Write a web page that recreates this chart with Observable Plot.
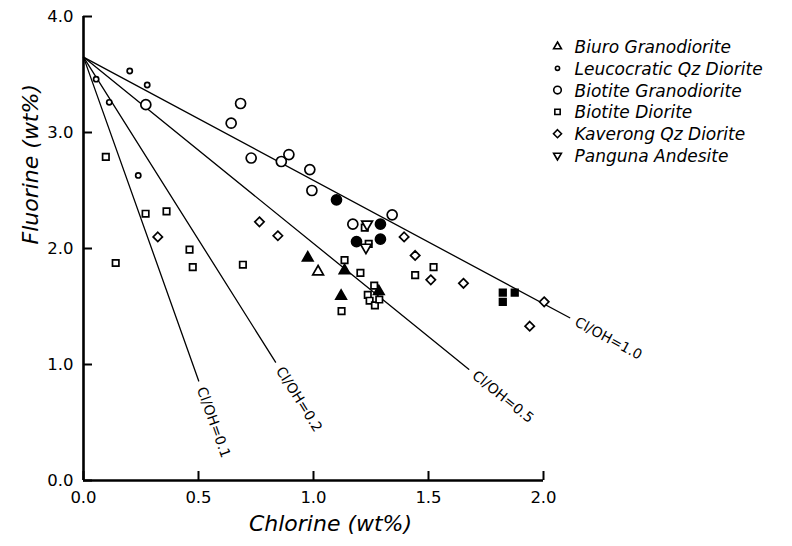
<!DOCTYPE html>
<html>
<head>
<meta charset="utf-8">
<script src="https://cdn.jsdelivr.net/npm/d3@7"></script>
<script src="https://cdn.jsdelivr.net/npm/@observablehq/plot@0.6"></script>
<style>
  html, body { margin: 0; padding: 0; background: #fff; }
  #chart { width: 792px; height: 546px; }
</style>
</head>
<body>
<div id="chart"></div>
<script>
// ---------- data ----------
const xTicks = [0, 0.5, 1.0, 1.5, 2.0];
const yTicks = [0, 1, 2, 3, 4];

const originCl = 0;
const originF = 3.65;
const ratioLabels = ["Cl/OH=0.1", "Cl/OH=0.2", "Cl/OH=0.5", "Cl/OH=1.0"];
const ratioEndCl = [0.501, 0.835, 1.675, 2.114];
const ratioEndF  = [0.858, 1.02, 0.959, 1.403];

const legendNames = ["Biuro Granodiorite", "Leucocratic Qz Diorite", "Biotite Granodiorite",
                     "Biotite Diorite", "Kaverong Qz Diorite", "Panguna Andesite"];

const biuroCl = [1.02];
const biuroF  = [1.80];
const biuroSolidCl = [0.975, 1.135, 1.12, 1.284];
const biuroSolidF  = [1.92, 1.81, 1.59, 1.63];

const leucoCl = [0.055, 0.112, 0.201, 0.277, 0.238];
const leucoF  = [3.46, 3.26, 3.53, 3.41, 2.63];

const biotGdCl = [0.271, 0.683, 0.642, 0.729, 0.860, 0.893, 0.984, 0.993, 1.171, 1.342];
const biotGdF  = [3.24, 3.25, 3.08, 2.78, 2.75, 2.81, 2.68, 2.50, 2.21, 2.29];
const biotGdSolidCl = [1.10, 1.291, 1.187, 1.291];
const biotGdSolidF  = [2.42, 2.21, 2.06, 2.08];

const biotDiCl = [0.097, 0.270, 0.361, 0.461, 0.475, 0.140, 0.693,
                  1.135, 1.204, 1.264, 1.236, 1.244, 1.267, 1.286, 1.122, 1.223, 1.240, 1.442, 1.522];
const biotDiF  = [2.79, 2.30, 2.32, 1.99, 1.84, 1.875, 1.86,
                  1.90, 1.79, 1.68, 1.60, 1.55, 1.51, 1.56, 1.46, 2.18, 2.04, 1.77, 1.84];
const biotDiSolidCl = [1.823, 1.875, 1.823];
const biotDiSolidF  = [1.62, 1.62, 1.54];

const kaverongCl = [0.323, 0.765, 0.845, 1.394, 1.442, 1.510, 1.652, 2.003, 1.940];
const kaverongF  = [2.10, 2.23, 2.11, 2.10, 1.94, 1.73, 1.70, 1.54, 1.33];

const pangunaCl = [1.233, 1.228];
const pangunaF  = [2.21, 2.01];

// ---------- series configuration ----------
const rows = (cl, f) => cl.map((c, i) => ({cl: c, f: f[i]}));
const series = [
  {cl: biuroCl, f: biuroF, symbol: "triangle", filled: false, r: 4, rotate: 0, legend: 0, lr: 2.9},
  {cl: biuroSolidCl, f: biuroSolidF, symbol: "triangle", filled: true, r: 3.9, rotate: 0},
  {cl: leucoCl, f: leucoF, symbol: "circle", filled: false, r: 2.6, rotate: 0, legend: 1, lr: 2.1},
  {cl: biotGdCl, f: biotGdF, symbol: "circle", filled: false, r: 5, rotate: 0, legend: 2, lr: 3.8},
  {cl: biotGdSolidCl, f: biotGdSolidF, symbol: "circle", filled: true, r: 5, rotate: 0},
  {cl: biotDiCl, f: biotDiF, symbol: "square2", filled: false, r: 4.1, rotate: 0, legend: 3, lr: 3.4},
  {cl: biotDiSolidCl, f: biotDiSolidF, symbol: "square", filled: true, r: 3.7, rotate: 0},
  {cl: kaverongCl, f: kaverongF, symbol: "diamond2", filled: false, r: 4.2, rotate: 0, legend: 4, lr: 3.6},
  {cl: pangunaCl, f: pangunaF, symbol: "triangle", filled: false, r: 4, rotate: 180, legend: 5, lr: 2.9}
];

const FONT = "DejaVu Sans, Liberation Sans, sans-serif";
const layout = {
  width: 792, height: 546,
  marginLeft: 83, marginRight: 249, marginTop: 16, marginBottom: 66,
  x: {domain: [0, 2]},
  y: {domain: [0, 4]},
  style: {fontFamily: FONT, background: "#fff", color: "#000", overflow: "visible"}
};

// probe pass: read the scales to orient the ratio-line labels and size the inward ticks
const probe = Plot.plot({...layout, marks: [Plot.ruleY([0])]});
const sx = probe.scale("x"), sy = probe.scale("y");

const ratioLines = ratioLabels.flatMap((lab, i) => [
  {lab, cl: originCl, f: originF},
  {lab, cl: ratioEndCl[i], f: ratioEndF[i]}
]);
const ratioText = ratioLabels.map((lab, i) => {
  const x0 = sx.apply(originCl), y0 = sy.apply(originF);
  const x1 = sx.apply(ratioEndCl[i]), y1 = sy.apply(ratioEndF[i]);
  const a = Math.atan2(y1 - y0, x1 - x0);
  const gap = 7;
  return {lab, cl: sx.invert(x1 + gap * Math.cos(a)), f: sy.invert(y1 + gap * Math.sin(a)), angle: a * 180 / Math.PI};
});

const TICK_PX = 9;
const xTickTop = sy.invert(sy.apply(0) - TICK_PX);
const yTickRight = sx.invert(sx.apply(0) + TICK_PX);

const pointMarks = series.map(s => Plot.dot(rows(s.cl, s.f), {
  x: "cl", y: "f", symbol: s.symbol, r: s.r, rotate: s.rotate,
  stroke: "#000", strokeWidth: 1.7, fill: s.filled ? "#000" : "#fff"
}));

const legendSeries = series.filter(s => s.legend !== undefined);
const legendMarks = legendSeries.flatMap(s => [
  Plot.dot([s.legend], {frameAnchor: "top-left", dx: 474, dy: 30 + s.legend * 21.8,
    symbol: s.symbol, r: s.lr, rotate: s.rotate, stroke: "#000", strokeWidth: 1.6, fill: "#fff"}),
  Plot.text([legendNames[s.legend]], {frameAnchor: "top-left", dx: 491, dy: 31 + s.legend * 21.8,
    textAnchor: "start", lineAnchor: "middle", fontSize: 17, fontStyle: "italic", fill: "#000"})
]);

const chart = Plot.plot({
  ...layout,
  marks: [
    Plot.line(ratioLines, {x: "cl", y: "f", z: "lab", stroke: "#000", strokeWidth: 1.3}),
    Plot.text(ratioText, {x: "cl", y: "f", text: "lab", rotate: "angle", textAnchor: "start",
      lineAnchor: "middle", fontSize: 14, fill: "#000"}),
    ...pointMarks,
    Plot.axisX({ticks: xTicks, tickFormat: d => d.toFixed(1), tickSize: 0, tickPadding: 11,
      fontSize: 16.5, label: null}),
    Plot.axisY({ticks: yTicks, tickFormat: d => d.toFixed(1), tickSize: 0, tickPadding: 10,
      fontSize: 16.5, label: null}),
    Plot.ruleX([0], {stroke: "#000", strokeWidth: 2.6}),
    Plot.ruleY([0], {stroke: "#000", strokeWidth: 2.6}),
    Plot.ruleX(xTicks.slice(), {x: d => d, y1: 0, y2: xTickTop, stroke: "#000", strokeWidth: 2}),
    Plot.ruleY(yTicks.slice(), {y: d => d, x1: 0, x2: yTickRight, stroke: "#000", strokeWidth: 2}),
    Plot.text(["Chlorine (wt%)"], {frameAnchor: "bottom", dx: 17, dy: 50, fontSize: 22,
      fontStyle: "italic", fill: "#000"}),
    Plot.text(["Fluorine (wt%)"], {frameAnchor: "left", dx: -53, dy: -4, rotate: -90, fontSize: 22,
      fontStyle: "italic", fill: "#000"}),
    ...legendMarks
  ]
});
document.getElementById("chart").appendChild(chart);
</script>
</body>
</html>
